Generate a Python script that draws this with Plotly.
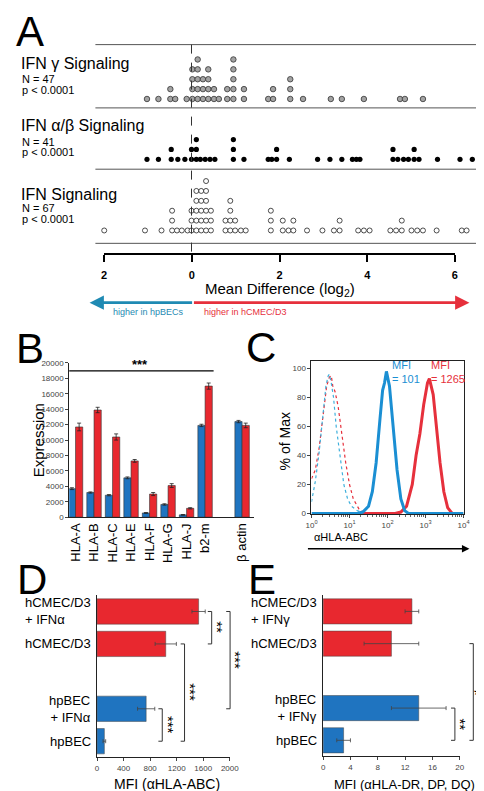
import plotly.graph_objects as go

W, H = 484, 791
FONT = "Arial, Liberation Sans, Helvetica, sans-serif"

# ---------------- Panel A data (log2 mean difference; equal values stack) ----------------
gamma_vals = [-1.01, -0.75, -0.48, -0.37, -0.11, 0.02, 0.14, 0.26, 0.38, 0.51, 0.62, 0.81, 0.95,
              1.19, 1.74, 1.85, 2.24, 2.53, 3.16, 3.41, 3.91, 4.73, 4.84, 5.25]
gamma_counts = [1, 1, 2, 1, 1, 4, 5, 3, 4, 2, 1, 2, 5, 2, 1, 2, 3, 1, 1, 1, 1, 1, 1, 1]
ab_vals = [-1.01, -0.75, -0.46, -0.31, -0.15, 0.0, 0.11, 0.20, 0.31, 0.42, 0.53, 0.95, 1.19, 1.74,
           1.82, 1.93, 2.22, 2.86, 3.14, 3.41, 3.65, 3.74, 3.82, 4.57, 4.68, 4.81, 4.92, 5.05, 5.16,
           5.58, 6.09, 6.37]
ab_counts = [1, 1, 2, 1, 1, 2, 3, 1, 1, 1, 1, 3, 1, 1, 1, 2, 1, 1, 1, 1, 1, 1, 1, 2, 1, 1, 1, 2, 1,
             1, 1, 1]
ifn_vals = [-1.98, -1.055, -0.68, -0.44, -0.33, -0.22, -0.09, 0.0, 0.11, 0.22, 0.33, 0.44, 0.77,
            0.88, 0.99, 1.12, 1.23, 1.80, 2.07, 2.20, 2.31, 2.62, 2.97, 3.23, 3.36, 3.78, 3.91, 4.04,
            4.51, 4.64, 4.77, 4.99, 5.12, 5.25, 5.56, 6.13, 6.24]
ifn_counts = [1, 1, 1, 3, 1, 1, 1, 3, 5, 5, 6, 3, 2, 4, 2, 1, 1, 3, 2, 1, 2, 1, 1, 1, 2, 1, 1, 1,
              1, 1, 2, 1, 1, 1, 1, 1, 1]
pathway_names = ["IFN γ Signaling", "IFN α/β Signaling", "IFN Signaling"]
pathway_n = [47, 41, 67]
pathway_p = ["p < 0.0001", "p < 0.0001", "p < 0.0001"]
a_tickvals = [-2, 0, 2, 4, 6]
a_ticktext = ["2", "0", "2", "4", "6"]

# ---------------- Panel B data ----------------
genes_B = ["HLA-A", "HLA-B", "HLA-C", "HLA-E", "HLA-F", "HLA-G", "HLA-J", "b2-m", " ", "β actin"]
hpbec_B = [3700, 3200, 2850, 5100, 550, 1650, 300, 11900, None, 12400]
hpbec_B_err = [120, 80, 80, 120, 50, 90, 40, 150, 0, 150]
hcmec_B = [11700, 13900, 10400, 7300, 3000, 4100, 1150, 17000, None, 11900]
hcmec_B_err = [500, 350, 400, 180, 200, 250, 80, 400, 0, 300]
b_yticks = list(range(0, 20001, 2000))

# ---------------- Panel C data (log10 fluorescence, % of max) ----------------
iso_hp_log = [0.0, 0.1, 0.2, 0.3, 0.38, 0.44, 0.47, 0.52, 0.58, 0.65, 0.75, 0.85, 0.95, 1.05, 1.2, 1.35, 1.5]
iso_hp_pct = [8, 22, 42, 68, 88, 95, 96, 90, 80, 60, 38, 20, 10, 5, 2, 0.5, 0]
iso_hc_log = [0.0, 0.1, 0.2, 0.3, 0.4, 0.47, 0.52, 0.56, 0.62, 0.7, 0.8, 0.9, 1.0, 1.1, 1.25, 1.4, 1.55]
iso_hc_pct = [24, 30, 45, 68, 88, 94, 95, 88, 84, 74, 55, 35, 20, 10, 3, 0.5, 0]
hp_log = [0.0, 1.2, 1.35, 1.5, 1.6, 1.7, 1.8, 1.87, 1.92, 1.97, 2.05, 2.15, 2.25, 2.35, 2.45, 2.55, 4.0]
hp_pct = [0, 0, 1, 5, 15, 35, 65, 85, 90, 98, 88, 60, 30, 10, 2, 0, 0]
hc_log = [1.3, 2.2, 2.35, 2.5, 2.65, 2.75, 2.85, 2.95, 3.05, 3.1, 3.2, 3.28, 3.38, 3.48, 3.58, 3.7, 3.9]
hc_pct = [0, 0, 1, 5, 20, 40, 55, 75, 90, 93, 82, 60, 35, 15, 4, 0, 0]
c_xticks = [1, 10, 100, 1000, 10000]
c_xticktext = ["10<sup>0</sup>", "10<sup>1</sup>", "10<sup>2</sup>", "10<sup>3</sup>", "10<sup>4</sup>"]
c_yticks = [0, 20, 40, 60, 80, 100]
mfi_hp, mfi_hc = 101, 1265

# ---------------- Panel D / E data ----------------
cells = ["hCMEC/D3<br>+ IFN", "hCMEC/D3", " ", "hpBEC<br>+ IFN", "hpBEC"]
cell_type = ["hCMEC", "hCMEC", None, "hpBEC", "hpBEC"]
mfi_D = [1530, 1035, None, 740, 110]
mfi_D_err = [100, 160, 0, 130, 20]
mfi_E = [13, 10, None, 14, 3]
mfi_E_err = [1, 4, 0, 4, 1]
d_xticks = [0, 400, 800, 1200, 1600, 2000]
e_xticks = [0, 4, 8, 12, 16, 20]

BLUE = "#1f74c0"
RED = "#e8282f"
CBLUE = "#1b8fd3"
CRED = "#e6303c"
TEAL = "#1f8ab3"
type_color = {"hCMEC": RED, "hpBEC": BLUE, None: "white"}


def px(x):
    return x / W


def py(y):
    return 1 - y / H


def stack(vals, counts):
    xs, ys = [], []
    for v, c in zip(vals, counts):
        for k in range(c):
            xs.append(v)
            ys.append(k)
    return xs, ys


def text(t, x, y, size, color="black", xa="center", ya="middle", **kw):
    d = dict(text=t, x=px(x), y=py(y), xref="paper", yref="paper", xanchor=xa, yanchor=ya,
             showarrow=False, font=dict(size=size, color=color))
    d.update(kw)
    return d


fig = go.Figure()
ann = []
shapes = []

# ---------- Panel A ----------
dot_styles = [
    dict(size=5.5, color="#a3a3a3", line=dict(color="#333", width=0.8)),
    dict(size=5.2, color="black", line=dict(color="black", width=0)),
    dict(size=5.0, color="white", line=dict(color="#222", width=0.8)),
]
for i, (vals, cnts) in enumerate([(gamma_vals, gamma_counts), (ab_vals, ab_counts), (ifn_vals, ifn_counts)]):
    xs, ys = stack(vals, cnts)
    sfx = "" if i == 0 else str(i + 1)
    fig.add_trace(go.Scatter(x=xs, y=ys, mode="markers", marker=dot_styles[i],
                             xaxis="x" + sfx, yaxis="y" + sfx, hoverinfo="skip", showlegend=False))

a_rows = [(33, 97, [-0.9, 5.5]), (97, 159, [-1.0, 5.2]), (159, 234, [-1.3, 6.2])]
lay = {}
for i, (top, bot, yr) in enumerate(a_rows):
    sfx = "" if i == 0 else str(i + 1)
    lay["xaxis" + sfx] = dict(domain=[px(84), px(478)], range=[-2.18, 6.48], visible=False,
                              anchor="y" + sfx, fixedrange=True)
    lay["yaxis" + sfx] = dict(domain=[py(bot), py(top)], range=yr, visible=False,
                              anchor="x" + sfx, fixedrange=True)

# axis for panel A
fig.add_trace(go.Scatter(x=[0], y=[0], mode="markers", marker=dict(opacity=0), xaxis="x4", yaxis="y4",
                         hoverinfo="skip", showlegend=False))
lay["xaxis4"] = dict(domain=[px(93), px(455)], range=[-2, 6], anchor="free", position=py(245),
                     showline=True, linewidth=2, linecolor="black", ticks="outside", ticklen=7,
                     tickwidth=2, tickcolor="black", tickvals=a_tickvals,
                     ticktext=["<b>%s</b>" % t for t in a_ticktext],
                     tickfont=dict(size=11, color="black", family=FONT), showgrid=False,
                     zeroline=False, ticklabelstandoff=4)
lay["yaxis4"] = dict(domain=[0, 0.002], visible=False, anchor="x4")

for yy in [33, 97, 159, 234]:
    shapes.append(dict(type="line", xref="paper", yref="paper", x0=px(84), x1=px(480), y0=py(yy), y1=py(yy),
                       line=dict(color="#555", width=1)))
shapes.append(dict(type="line", xref="x", yref="paper", x0=0, x1=0, y0=py(33), y1=py(250),
                   line=dict(color="#333", width=1, dash="dash")))

title_y = [52, 115, 185]
n_y = [68, 131, 198]
p_y = [79, 142, 209]
for i in range(3):
    ann.append(text(pathway_names[i], 5, title_y[i], 16, xa="left"))
    ann.append(text("N = %d" % pathway_n[i], 6, n_y[i], 11, xa="left"))
    ann.append(text(pathway_p[i], 6, p_y[i], 11, xa="left"))

ann.append(text("Mean Difference (log<sub>2</sub>)", 274, 281, 15))
# arrows
ann.append(dict(text="", x=px(78), y=py(294), xref="paper", yref="paper", ax=104, ay=0, showarrow=True,
                arrowhead=2, arrowsize=1.1, arrowwidth=2.6, arrowcolor=TEAL))
ann.append(dict(text="", x=px(470), y=py(294), xref="paper", yref="paper", ax=-277, ay=0, showarrow=True,
                arrowhead=2, arrowsize=1.1, arrowwidth=2.6, arrowcolor=CRED))
ann.append(text("higher in hpBECs", 100, 303, 9, TEAL, xa="left"))
ann.append(text("higher in hCMEC/D3", 194, 303, 9, CRED, xa="left"))

# ---------- Panel B ----------
fig.add_trace(go.Bar(x=genes_B, y=hpbec_B, name="hpBEC", marker=dict(color=BLUE, line=dict(color="#333", width=0.6)),
                     error_y=dict(type="data", array=hpbec_B_err, color="#222", thickness=0.8, width=2),
                     xaxis="x5", yaxis="y5", showlegend=False, hoverinfo="skip"))
fig.add_trace(go.Bar(x=genes_B, y=hcmec_B, name="hCMEC/D3", marker=dict(color=RED, line=dict(color="#333", width=0.6)),
                     error_y=dict(type="data", array=hcmec_B_err, color="#222", thickness=0.8, width=2),
                     xaxis="x5", yaxis="y5", showlegend=False, hoverinfo="skip"))
lay["xaxis5"] = dict(domain=[px(57), px(248)], anchor="y5", type="category", categoryorder="array",
                     categoryarray=genes_B, range=[-0.34, 9.66], showline=True, linecolor="#222", linewidth=1,
                     ticks="", tickangle=-90, tickfont=dict(size=13, color="black"), showgrid=False)
lay["yaxis5"] = dict(domain=[py(511), py(355)], anchor="x5", range=[0, 20000], showline=True, linecolor="#222",
                     linewidth=1, ticks="outside", ticklen=3, tickcolor="#444", tickvals=b_yticks,
                     tickformat="d", tickfont=dict(size=8, color="#444"), showgrid=False, zeroline=False)
ann.append(text("Expression", 25, 433, 15, textangle=-90))
shapes.append(dict(type="line", xref="paper", yref="paper", x0=px(57), x1=px(206), y0=py(363), y1=py(363),
                   line=dict(color="black", width=1.2)))
ann.append(text("<b>***</b>", 130, 357, 13))

# ---------- Panel C ----------
c_series = [
    (iso_hc_log, iso_hc_pct, dict(color=CRED, width=1.2, dash="dot")),
    (iso_hp_log, iso_hp_pct, dict(color="#3fb0dc", width=1.2, dash="dot")),
    (hc_log, hc_pct, dict(color=CRED, width=3)),
    (hp_log, hp_pct, dict(color=CBLUE, width=3)),
]
for lx, ly, ln in c_series:
    fig.add_trace(go.Scatter(x=[10 ** v for v in lx], y=ly, mode="lines", line=ln, xaxis="x6", yaxis="y6",
                             showlegend=False, hoverinfo="skip"))
lay["xaxis6"] = dict(domain=[px(307), px(464)], anchor="y6", type="log", range=[0, 4], showline=True,
                     mirror=True, linecolor="#222", linewidth=1, ticks="outside", ticklen=3, tickcolor="#444",
                     tickvals=c_xticks, ticktext=c_xticktext, tickfont=dict(size=8, color="#444"),
                     showgrid=False, minor=dict(ticks="outside", ticklen=2, tickcolor="#666", dtick="D1"))
lay["yaxis6"] = dict(domain=[py(508), py(353)], anchor="x6", range=[-0.5, 105.2], showline=True, mirror=True,
                     linecolor="#222", linewidth=1, ticks="outside", ticklen=3, tickcolor="#444",
                     tickvals=c_yticks, tickfont=dict(size=8, color="#444"), showgrid=False, zeroline=False)
ann.append(text("% of Max", 280, 434, 14, textangle=-90))
ann.append(text("MFI<br>= %d" % mfi_hp, 388, 364, 11, CBLUE, xa="left", align="left"))
ann.append(text("MFI<br>= %d" % mfi_hc, 428, 364, 11, CRED, xa="left", align="left"))
ann.append(text("αHLA-ABC", 308, 531, 11, xa="left"))
ann.append(dict(text="", x=px(470), y=py(543), xref="paper", yref="paper", ax=-163, ay=0, showarrow=True,
                arrowhead=2, arrowsize=1, arrowwidth=1.5, arrowcolor="black"))

# ---------- Panels D and E ----------
cols = [type_color[t] for t in cell_type]
cat_order = list(reversed(cells))
for vals, errs, xa, ya in [(mfi_D, mfi_D_err, "x7", "y7"), (mfi_E, mfi_E_err, "x8", "y8")]:
    fig.add_trace(go.Bar(y=cells, x=vals, orientation="h", marker=dict(color=cols, line=dict(color="#444", width=0.5)),
                         error_x=dict(type="data", array=errs, color="#444", thickness=0.8, width=2),
                         xaxis=xa, yaxis=ya, showlegend=False, hoverinfo="skip"))

lay["xaxis7"] = dict(domain=[px(85.7), px(222.7)], anchor="y7", range=[0, 2000], showline=True, linecolor="#222",
                     linewidth=1, ticks="outside", ticklen=3, tickcolor="#444", tickvals=d_xticks,
                     tickfont=dict(size=8, color="#444"), showgrid=False, zeroline=False)
lay["yaxis7"] = dict(domain=[py(754), py(590)], anchor="x7", type="category", categoryorder="array",
                     categoryarray=cat_order, range=[-0.5, 4.5], showline=True, linecolor="#222", linewidth=1,
                     ticks="", showticklabels=False, showgrid=False)
lay["xaxis8"] = dict(domain=[px(319), px(460)], anchor="y8", range=[0, 20], showline=True, linecolor="#222",
                     linewidth=1, ticks="outside", ticklen=3, tickcolor="#444", tickvals=e_xticks,
                     tickfont=dict(size=8, color="#444"), showgrid=False, zeroline=False)
lay["yaxis8"] = dict(domain=[py(753), py(590)], anchor="x8", type="category", categoryorder="array",
                     categoryarray=cat_order, range=[-0.5, 4.5], showline=True, linecolor="#222", linewidth=1,
                     ticks="", showticklabels=False, showgrid=False)

ann.append(text("MFI (αHLA-ABC)", 158, 781, 14))
ann.append(text("MFI (αHLA-DR, DP, DQ)", 403, 781, 13))

for ya, right_px, ifn in [("y7", 82, "α"), ("y8", 315, "γ")]:
    for c, t in zip(cells, cell_type):
        if t is None:
            continue
        label = c.replace("IFN", "IFN" + ifn)
        ann.append(dict(text=label, x=px(right_px), y=cat_order.index(c), xref="paper", yref=ya,
                        xanchor="right", yanchor="middle", align="left" if t == "hCMEC" else "right",
                        showarrow=False, font=dict(size=13, color="black")))


def bracket(ya, i0, i1, xpx, stars, star_dx=6, angle=90, yshift=0, size=15):
    for a in (i0, i1):
        shapes.append(dict(type="line", xref="paper", yref=ya, x0=px(xpx - 4), x1=px(xpx), y0=a, y1=a,
                           line=dict(color="#333", width=1)))
    shapes.append(dict(type="line", xref="paper", yref=ya, x0=px(xpx), x1=px(xpx), y0=i0, y1=i1,
                       line=dict(color="#333", width=1)))
    ann.append(dict(text=stars, x=px(xpx + star_dx), y=(i0 + i1) / 2, xref="paper", yref=ya, textangle=angle,
                    xanchor="center", yanchor="middle", borderpad=0, yshift=yshift,
                    showarrow=False, font=dict(size=size, color="black")))


idx = {c: cat_order.index(c) for c in cells}
bracket("y7", idx[cells[0]], idx[cells[1]], 204, "**")
bracket("y7", idx[cells[0]], idx[cells[3]], 223, "***")
bracket("y7", idx[cells[1]], idx[cells[4]], 176, "***")
bracket("y7", idx[cells[3]], idx[cells[4]], 153, "***")
bracket("y8", idx[cells[3]], idx[cells[4]], 455, "**")
bracket("y8", idx[cells[1]], idx[cells[4]], 474, "*", star_dx=4, angle=0, yshift=-4, size=17)

# Panel letters
for letter, x, y in [("A", 17, 20), ("B", 16, 340), ("C", 255, 339), ("D", 19, 574), ("E", 256, 574)]:
    ann.append(text(letter, x, y, 42))

fig.update_layout(width=W, height=H, margin=dict(l=0, r=0, t=0, b=0), paper_bgcolor="white",
                  plot_bgcolor="rgba(0,0,0,0)", font=dict(family=FONT, color="black"),
                  barmode="group", bargap=0.22, bargroupgap=0, showlegend=False,
                  annotations=ann, shapes=shapes, **lay)

fig.write_html("out.html")
